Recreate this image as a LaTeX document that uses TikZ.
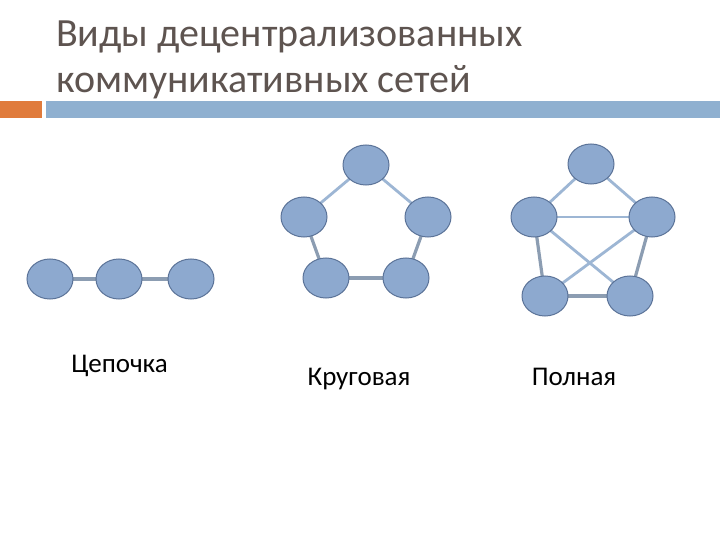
\documentclass[tikz,border=0pt]{standalone}
\usepackage{fontspec}
\setmainfont{Carlito}
\usetikzlibrary{shapes.geometric}
\definecolor{nodefill}{HTML}{8DA9CF}
\definecolor{nodeline}{HTML}{5B7398}
\definecolor{edgecol}{HTML}{8C9DB2}
\definecolor{edgelight}{HTML}{9DB6D4}
\definecolor{titlecol}{HTML}{5E5450}
\definecolor{barblue}{HTML}{8FB0D0}
\definecolor{barorange}{HTML}{E07B3C}
\begin{document}
\begin{tikzpicture}[x=1bp,y=-1bp,
  nd/.style={ellipse,draw=nodeline,line width=1bp,fill=nodefill,minimum width=46bp,minimum height=40bp,inner sep=0pt},
  ed/.style={draw=edgecol,line width=3.2bp},
  edl/.style={draw=edgelight,line width=2.8bp},
  ttl/.style={anchor=base west,inner sep=0pt,text=titlecol,font=\fontsize{40bp}{46bp}\selectfont},
  lbl/.style={font=\fontsize{27bp}{32bp}\selectfont,text=black,inner sep=0pt,anchor=base}]
\useasboundingbox (0,0) rectangle (720,540);
\fill[white] (0,0) rectangle (720,540);
% title
\node[ttl] (t1) at (56,47) {Виды децентрализованных};
\node[ttl] (t2) at (56,93) {коммуникативных сетей};
\fill[barorange] (0,101) rectangle (42,118);
\fill[barblue] (46,101) rectangle (720,118);
% chain
\coordinate (cA) at (50,279);
\coordinate (cB) at (119,279);
\coordinate (cC) at (191,279);
\draw[ed] (cA) -- (cB);
\draw[ed] (cB) -- (cC);
\node[nd] (c1) at (cA) {};
\node[nd] (c2) at (cB) {};
\node[nd] (c3) at (cC) {};
% circle
\coordinate (rT) at (366,165);
\coordinate (rL) at (304,217);
\coordinate (rR) at (428,217);
\coordinate (rBL) at (326,278);
\coordinate (rBR) at (406,278);
\draw[edl] (rT) -- (rL);
\draw[edl] (rT) -- (rR);
\draw[ed] (rL) -- (rBL);
\draw[ed] (rR) -- (rBR);
\draw[ed] (rBL) -- (rBR);
\node[nd] (r1) at (rT) {};
\node[nd] (r2) at (rL) {};
\node[nd] (r3) at (rR) {};
\node[nd] (r4) at (rBL) {};
\node[nd] (r5) at (rBR) {};
% full
\coordinate (fT) at (591,164);
\coordinate (fL) at (534,217);
\coordinate (fR) at (652,217);
\coordinate (fBL) at (545,296);
\coordinate (fBR) at (630,296);
\draw[edl] (fT) -- (fL);
\draw[edl] (fT) -- (fR);
\draw[edl] (fL) -- (fR);
\draw[edl] (fL) -- (fBR);
\draw[edl] (fR) -- (fBL);
\draw[ed] (fL) -- (fBL);
\draw[ed] (fR) -- (fBR);
\draw[ed] (fBL) -- (fBR);
\node[nd] (f1) at (fT) {};
\node[nd] (f2) at (fL) {};
\node[nd] (f3) at (fR) {};
\node[nd] (f4) at (fBL) {};
\node[nd] (f5) at (fBR) {};
% labels
\node[lbl] (l1) at (119.5,372) {Цепочка};
\node[lbl] (l2) at (359,385) {Круговая};
\node[lbl] (l3) at (574,385) {Полная};
\end{tikzpicture}
\end{document}
